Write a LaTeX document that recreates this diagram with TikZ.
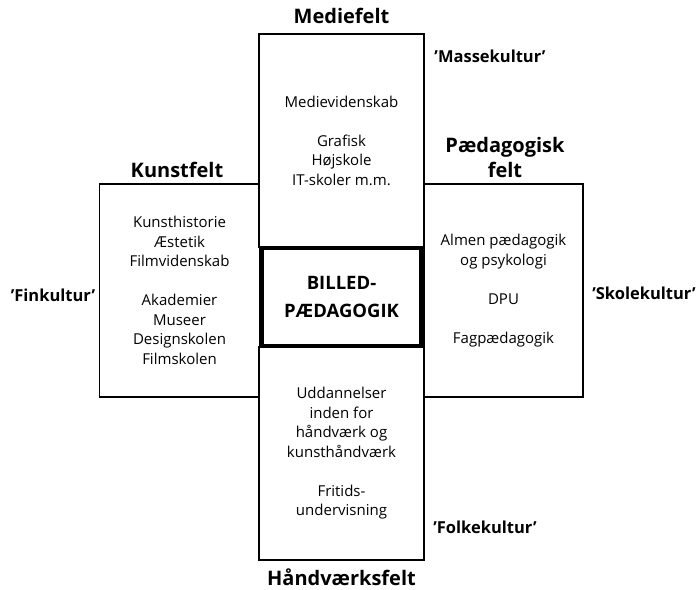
\documentclass[tikz,border=0pt]{standalone}
\usepackage{fontspec}
\setmainfont{Open Sans}
\usetikzlibrary{positioning}
\tikzset{
  field/.style={draw,line width=1.3pt,align=center,inner sep=0pt,font=\fontsize{15}{19.5}\selectfont},
  core/.style={draw,line width=4.5pt,fill=white,align=center,inner sep=0pt,font=\fontsize{18.5}{28}\selectfont\bfseries},
  fieldname/.style={align=center,inner sep=0pt,font=\fontsize{20}{25}\selectfont\bfseries},
  culture/.style={inner sep=0pt,font=\fontsize{16.5}{18}\selectfont\bfseries}
}

\begin{document}
\begin{tikzpicture}[x=1pt,y=-1pt]
\useasboundingbox (0,0) rectangle (698,589);
% the four fields
\node[field,minimum width=165pt,minimum height=213pt](medie)at(341.5,140.5){Medievidenskab\\[19.5pt]Grafisk\\Højskole\\IT-skoler m.m.};
\node[field,minimum width=160pt,minimum height=213pt](kunst)at(179.5,290.5){Kunsthistorie\\Æstetik\\Filmvidenskab\\[19.5pt]Akademier\\Museer\\Designskolen\\Filmskolen};
\node[field,minimum width=159pt,minimum height=213pt](paed)at(503.5,290.5){Almen pædagogik\\og psykologi\\[19.5pt]DPU\\[19.5pt]Fagpædagogik};
\node[field,minimum width=165pt,minimum height=213pt](haand)at(341.5,453.5){Uddannelser\\inden for\\håndværk og\\kunsthåndværk\\[19.5pt]Fritids-\\undervisning};
% centre
\node[core,minimum width=160pt,minimum height=98pt](billed)at(341.5,297){BILLED-\\PÆDAGOGIK};
% field names
\node[fieldname,above=9pt of medie](mediefelt){Mediefelt};
\node[fieldname](kunstfelt)at(177,170){Kunstfelt};
\node[fieldname](paedfelt)at(505,157){Pædagogisk\\felt};
\node[fieldname,below=8pt of haand](haandfelt){Håndværksfelt};
% cultures
\node[culture](masse)at(490,56){'Massekultur'};
\node[culture](fin)at(53,295){'Finkultur'};
\node[culture](skole)at(644,293){'Skolekultur'};
\node[culture](folke)at(485,527){'Folkekultur'};
\end{tikzpicture}
\end{document}
